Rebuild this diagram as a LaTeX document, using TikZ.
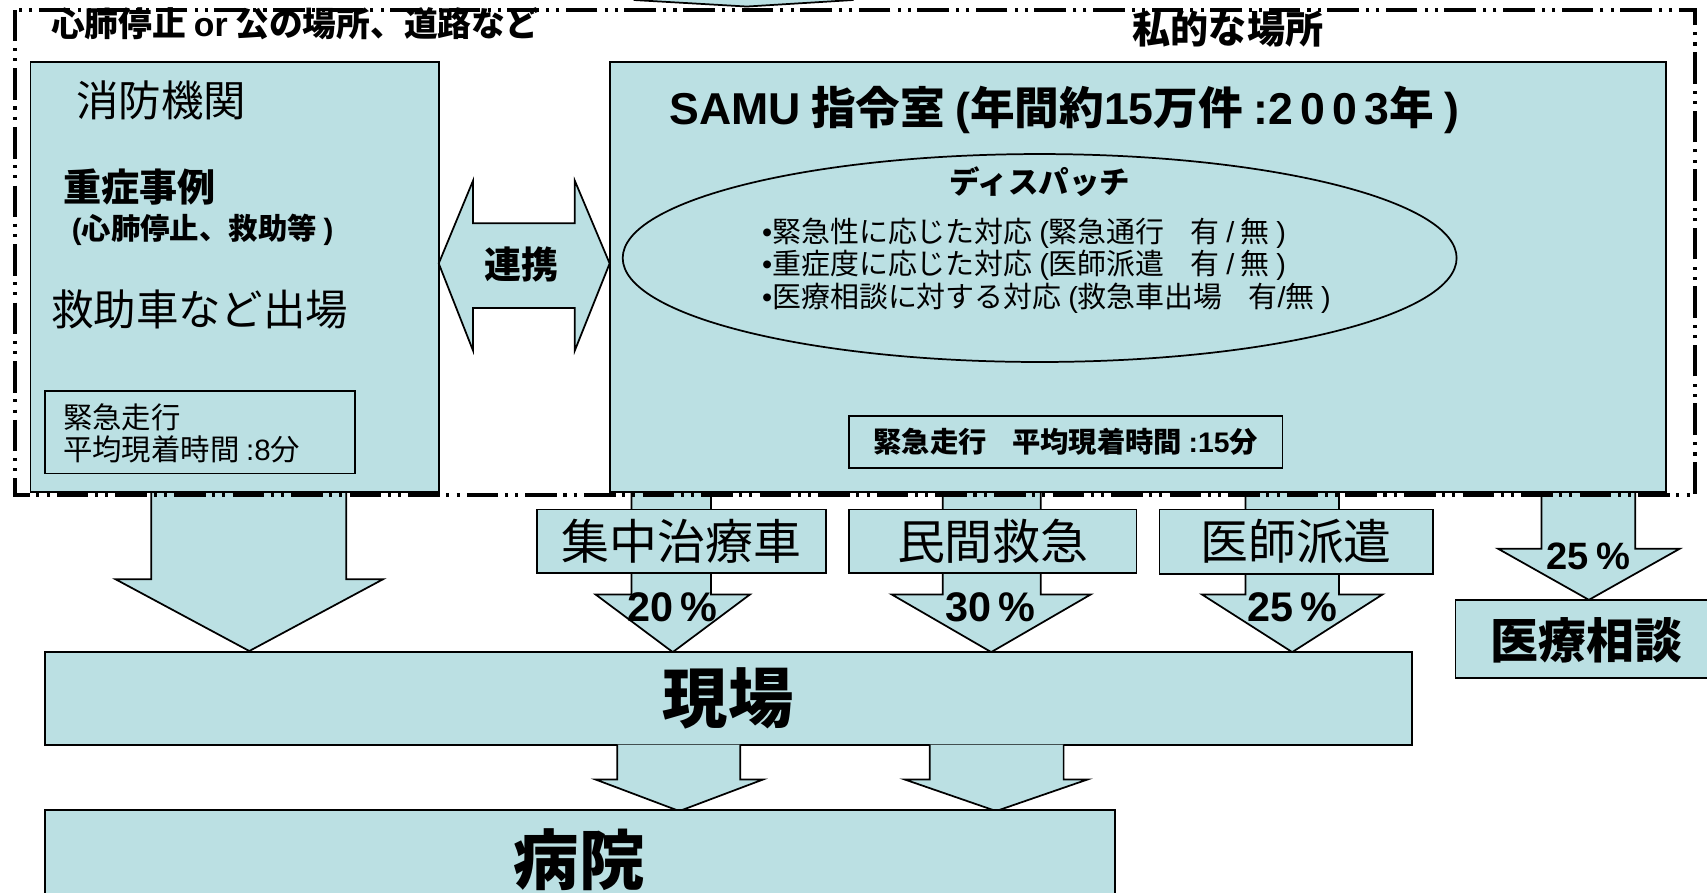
\documentclass[tikz,border=0pt]{standalone}
\usepackage{fontspec}
\setmainfont{Noto Sans CJK JP}
\newfontfamily\lat{Liberation Sans}
\usetikzlibrary{shapes.geometric}
\definecolor{lb}{HTML}{BBE0E3}
\newcommand\fsz[1]{\fontsize{#1}{\dimexpr #1*12/10\relax}\selectfont}
% down block arrow: #1 shaft left, #2 shaft right, #3 top y, #4 head base y, #5 head left, #6 head right, #7 tip y
\newcommand\blockdown[7]{%
  \fill[lb] (#1,#3) -- (#1,#4) -- (#5,#4) -- ({(#5+#6)/2},#7) -- (#6,#4) -- (#2,#4) -- (#2,#3) -- cycle;
  \draw[line width=0.8pt, line join=miter] (#1,#3) -- (#1,#4) -- (#5,#4) -- ({(#5+#6)/2},#7) -- (#6,#4) -- (#2,#4) -- (#2,#3);
}
\begin{document}
\begin{tikzpicture}[x=0.5pt,y=-0.5pt,
  box/.style={draw=black, fill=lb, line width=0.8pt, inner sep=0pt, outer sep=0pt},
  blk/.style={draw=black, fill=lb, line width=0.8pt, line join=miter},
  lbl/.style={inner sep=0pt, outer sep=0pt, text=black},
  border/.style={line width=1.7pt, dash pattern=on 14.5pt off 3pt on 1.4pt off 3.3pt on 1.4pt off 3.3pt}
]
\useasboundingbox (0,0) rectangle (1568,819.4);
\fill[white] (0,0) rectangle (1568,819.4);

% arrow tip coming in from the top
\fill[lb] (582,-4) -- (582,0) -- (686,6) -- (784,0) -- (784,-4) -- cycle;
\draw[line width=0.8pt] (582,0) -- (686,6) -- (784,0);

% arrows leaving the dashed area
\blockdown{139}{318}{452}{532}{106}{352}{598}
\blockdown{580}{653}{452}{546}{547}{689}{599}
\blockdown{866}{956}{452}{546}{819}{1002}{599}
\blockdown{1144}{1230}{452}{546}{1104}{1270}{599}
\blockdown{1416}{1502}{452}{504}{1376}{1543}{551}

% main boxes
\node[box, minimum width=187.5pt, minimum height=197.5pt] (shobo) at (215.5,254.5) {};
\node[box, minimum width=485pt, minimum height=197.5pt] (samu) at (1045,254.5) {};
\node[box, minimum width=142.5pt, minimum height=38pt] (avg8) at (183.5,397) {};
\node[box, ellipse, minimum width=383pt, minimum height=95.5pt] (disp) at (955,237) {};
\node[box, minimum width=199pt, minimum height=24pt, font=\fsz{13pt}\bfseries] (avg15) at (979,406) {緊急走行\hspace{0.9em}平均現着時間 {\lat :15}分};

% double arrow
\draw[blk] (403,242) -- (434.5,166) -- (434.5,205) -- (528,205) -- (528,166) -- (560,242)
  -- (528,322) -- (528,283) -- (434.5,283) -- (434.5,322) -- cycle;
\node[lbl, font=\fsz{17pt}\bfseries] (renkei) at (479,243) {連携};

% vehicle boxes
\node[box, minimum width=133pt, minimum height=29pt, font=\fsz{22pt}] (icu) at (626,497) {集中治療車};
\node[box, minimum width=132pt, minimum height=29pt, font=\fsz{22pt}] (priv) at (912,497) {民間救急};
\node[box, minimum width=125.5pt, minimum height=29.5pt, font=\fsz{22pt}] (doc) at (1190.5,497.5) {医師派遣};

% consultation box
\node[box, minimum width=121.5pt, minimum height=36pt] (consult) at (1458.5,587) {};
\node[lbl, font=\fsz{22pt}\bfseries] (consultt) at (1457,588) {医療相談};

% scene box
\node[box, minimum width=628pt, minimum height=42.5pt, font=\fsz{30pt}\bfseries] (genba) at (669,641.5) {現場};

% arrows to hospital
\blockdown{567}{680}{684}{716}{547}{701}{745}
\blockdown{854}{977}{684}{716}{831}{999}{745}

% hospital box
\node[box, minimum width=491.5pt, minimum height=60pt] (byoin) at (532.5,804) {};
\node[lbl, font=\fsz{30pt}\bfseries] (byoint) at (532,790) {病院};

% dashed region
\draw[border] (14,9) rectangle (1557,455);

% titles
\node[lbl, anchor=west, font=\fsz{15.5pt}\bfseries] (tleft) at (47,22) {心肺停止 {\lat or} 公の場所、道路など};
\node[lbl, font=\fsz{17.5pt}\bfseries] (tright) at (1128,27) {私的な場所};

% fire department texts
\node[lbl, anchor=west, font=\fsz{19.5pt}] (t1) at (70,92) {消防機関};
\node[lbl, anchor=west, font=\fsz{17.5pt}\bfseries] (t2) at (58,172) {重症事例};
\node[lbl, anchor=west, font=\fsz{13.5pt}\bfseries] (t3) at (66,211) {{\lat (}心肺停止、救助等 {\lat )}};
\node[lbl, anchor=west, font=\fsz{19.5pt}] (t4) at (47,284) {救助車など出場};
\node[lbl, anchor=west, font=\fsz{13.5pt}] (t5) at (58,383) {緊急走行};
\node[lbl, anchor=west, font=\fsz{13.5pt}] (t6) at (58,413) {平均現着時間 {\lat :8}分};

% SAMU texts
\node[lbl, anchor=west, font=\fsz{20.5pt}\bfseries] (s1) at (615,101) {{\lat SAMU} 指令室 {\lat (}年間約{\lat 15}万件 {\lat :2\,0\,0\,3}年 {\lat )}};
\node[lbl, font=\fsz{14pt}\bfseries] (s2) at (955,167) {ディスパッチ};
\node[lbl, anchor=west, font=\fsz{13.3pt}] (s3) at (700,214) {{\lat •}緊急性に応じた対応 {\lat (}緊急通行\hspace{0.9em}有 {\lat /} 無 {\lat )}};
\node[lbl, anchor=west, font=\fsz{13.3pt}] (s4) at (700,244) {{\lat •}重症度に応じた対応 {\lat (}医師派遣\hspace{0.9em}有 {\lat /} 無 {\lat )}};
\node[lbl, anchor=west, font=\fsz{13.3pt}] (s5) at (700,274) {{\lat •}医療相談に対する対応 {\lat (}救急車出場\hspace{0.9em}有{\lat /}無 {\lat )}};

% percentages
\node[lbl, font=\lat\fsz{19pt}\bfseries] (p1) at (618,558) {20\,\%};
\node[lbl, font=\lat\fsz{19pt}\bfseries] (p2) at (910,558) {30\,\%};
\node[lbl, font=\lat\fsz{19pt}\bfseries] (p3) at (1187,558) {25\,\%};
\node[lbl, font=\lat\fsz{17.5pt}\bfseries] (p4) at (1459,511) {25\hspace{0.2em}\%};
\end{tikzpicture}
\end{document}
